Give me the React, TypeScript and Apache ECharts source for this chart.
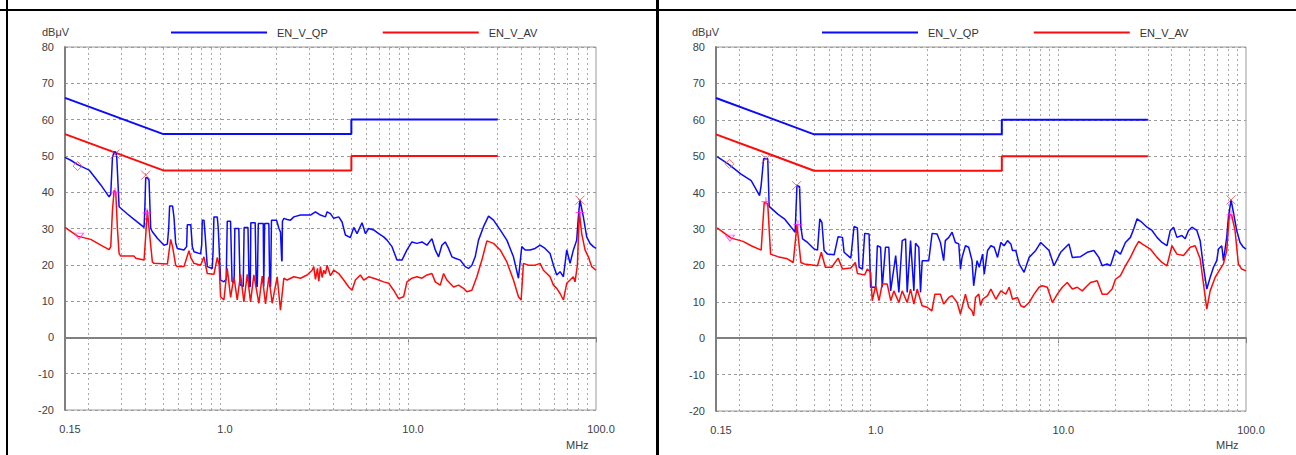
import React, { useEffect, useRef } from "react";
import * as echarts from "echarts";

const legendNames = ["EN_V_QP", "EN_V_AV"];
const xTickLabels = ["0.15", "1.0", "10.0", "100.0"];
const gridFreqs = [0.2, 0.3, 0.4, 0.5, 0.6, 0.7, 0.8, 0.9, 1, 2, 3, 4, 5, 6, 7, 8, 9, 10, 20, 30, 40, 50, 60, 70, 80, 90];

const qpLimit = [[0.15, 66], [0.5, 56], [5, 56], [5, 60], [30, 60]];
const avLimit = [[0.15, 56], [0.5, 46], [5, 46], [5, 50], [30, 50]];

const leftQP = [[0.15,49.6],[0.161,48.8],[0.175,47.6],[0.2015,46.1],[0.2325,42.0],[0.2574,38.7],[0.2627,39.5],[0.2682,49.6],[0.2737,51.1],[0.2793,51.1],[0.2827,49.6],[0.2909,36.0],[0.3221,34.0],[0.3494,32.5],[0.395,30.3],[0.399,36.0],[0.403,44.0],[0.4113,44.0],[0.4198,43.3],[0.4284,30.0],[0.4372,29.1],[0.4648,27.3],[0.5042,25.4],[0.5254,25.7],[0.534,30.0],[0.54,36.2],[0.56,36.2],[0.57,33.0],[0.5815,26.0],[0.5935,24.5],[0.6438,24.1],[0.665,25.0],[0.6707,31.0],[0.7,31.0],[0.713,25.0],[0.7276,23.6],[0.7896,23.0],[0.8,25.5],[0.8058,32.3],[0.8223,32.3],[0.835,28.0],[0.8564,19.5],[0.9105,19.0],[0.92,24.0],[0.9292,33.2],[0.9678,33.2],[0.98,30.0],[1.008,15.8],[1.05,15.3],[1.08,16.0],[1.094,32.0],[1.139,32.0],[1.16,15.5],[1.19,15.0],[1.2,30.0],[1.26,30.0],[1.28,14.5],[1.33,14.0],[1.345,30.3],[1.41,30.3],[1.43,14.0],[1.45,14.0],[1.46,31.6],[1.54,31.6],[1.56,14.0],[1.58,14.0],[1.6,31.4],[1.7,31.4],[1.71,14.0],[1.72,14.0],[1.73,31.4],[1.82,31.4],[1.84,14.0],[1.86,14.0],[1.88,32.3],[2.0,32.3],[2.06,30.0],[2.1,29.0],[2.13,21.3],[2.14,21.0],[2.15,32.0],[2.19,32.8],[2.278,32.5],[2.372,32.3],[2.472,33.2],[2.682,33.7],[3.03,33.7],[3.221,34.6],[3.424,33.7],[3.64,33.2],[3.715,34.6],[3.869,34.1],[4.03,32.8],[4.284,33.2],[4.462,31.8],[4.648,28.2],[4.941,27.5],[5.147,30.3],[5.361,28.6],[5.699,31.6],[5.936,28.6],[6.183,30.0],[6.572,29.6],[6.987,28.6],[7.428,27.7],[7.737,26.8],[8.224,25.0],[8.742,21.3],[9.292,21.3],[9.878,24.1],[10.5,26.3],[11.16,25.9],[11.87,26.3],[12.62,25.4],[13.41,27.2],[13.97,24.1],[14.55,22.2],[15.15,25.4],[15.78,26.3],[16.44,24.5],[17.13,22.2],[17.84,21.8],[18.96,21.3],[20.16,19.5],[21.0,19.0],[21.87,19.9],[22.78,22.2],[23.73,26.8],[25.22,30.5],[26.82,33.4],[28.51,32.3],[30.93,29.6],[33.56,26.8],[36.4,22.2],[38.69,16.3],[40.3,25.0],[41.98,24.1],[44.62,24.1],[47.44,24.5],[50.43,25.4],[53.61,24.5],[56.99,23.1],[59.36,19.9],[61.83,17.2],[64.41,18.1],[67.09,16.7],[69.88,24.1],[72.79,20.4],[75.81,24.1],[78.96,26.8],[80.58,33.2],[82.24,37.8],[85.66,33.2],[89.22,27.7],[92.92,25.9],[96.79,25.0],[100,24.5]];

const leftAV = [[0.15,30.3],[0.175,27.9],[0.2057,27.0],[0.2325,25.4],[0.2574,24.2],[0.2627,25.0],[0.2682,35.0],[0.2737,40.5],[0.2793,40.0],[0.285,30.0],[0.2909,23.1],[0.297,22.4],[0.3494,22.4],[0.3566,21.8],[0.395,21.3],[0.403,28.0],[0.4113,35.1],[0.4198,30.0],[0.4372,20.8],[0.4462,20.4],[0.5254,20.2],[0.547,27.0],[0.56,25.0],[0.5815,19.9],[0.5935,19.5],[0.6438,19.5],[0.6845,23.9],[0.7,22.0],[0.7276,20.4],[0.7896,19.9],[0.8223,22.2],[0.8564,17.6],[0.9292,17.4],[0.9678,22.0],[0.99,20.0],[1.008,11.2],[1.05,10.3],[1.094,19.0],[1.14,11.0],[1.187,16.7],[1.236,10.3],[1.287,17.4],[1.341,9.8],[1.397,17.4],[1.455,9.8],[1.515,17.2],[1.611,9.4],[1.678,16.9],[1.748,9.2],[1.82,16.7],[1.896,9.4],[2.016,16.7],[2.099,7.5],[2.187,16.3],[2.278,15.8],[2.472,16.7],[2.682,16.3],[2.909,17.2],[3.093,18.5],[3.156,19.5],[3.221,16.0],[3.3,19.0],[3.356,15.5],[3.424,19.5],[3.495,16.5],[3.566,18.5],[3.64,17.5],[3.715,19.9],[3.869,17.0],[4.03,18.5],[4.284,17.6],[4.554,15.8],[4.842,13.9],[5.043,13.0],[5.253,15.8],[5.584,17.2],[5.817,15.8],[6.183,16.7],[6.572,16.3],[6.987,15.8],[7.428,15.3],[7.896,14.9],[8.393,13.0],[8.922,10.7],[9.484,11.2],[9.878,15.3],[10.5,16.3],[11.16,16.7],[11.87,16.3],[12.62,17.2],[13.41,17.6],[13.97,15.3],[14.85,14.4],[15.47,17.6],[16.11,15.8],[17.48,13.9],[18.58,14.4],[19.75,13.5],[20.57,12.6],[21.87,13.0],[23.25,16.7],[24.72,21.3],[26.28,26.6],[28.51,25.9],[30.93,24.1],[33.56,20.8],[36.4,15.8],[38.69,11.2],[39.97,10.3],[41.13,20.4],[43.72,19.9],[47.44,19.9],[50.43,20.4],[52.52,18.5],[56.99,16.7],[59.36,14.4],[61.83,13.5],[64.41,12.1],[67.09,10.3],[69.88,14.9],[72.79,15.8],[75.81,16.7],[77.37,15.3],[79.61,19.9],[81.57,34.6],[83.93,28.6],[87.42,24.1],[91.06,22.2],[94.84,19.5],[100,18.5]];

const rightQP = [[0.152,49.9],[0.174,47.9],[0.204,45.1],[0.231,43.3],[0.256,39.2],[0.261,42.0],[0.269,49.3],[0.283,49.3],[0.288,36.2],[0.32,34.1],[0.347,32.8],[0.384,30.0],[0.396,29.1],[0.405,41.9],[0.418,41.7],[0.425,30.5],[0.434,27.3],[0.461,26.3],[0.5,24.5],[0.521,24.2],[0.536,32.8],[0.55,31.8],[0.565,24.1],[0.589,23.1],[0.639,22.9],[0.671,27.9],[0.708,27.7],[0.722,23.6],[0.784,22.0],[0.816,30.7],[0.85,30.3],[0.868,19.5],[0.904,19.0],[0.93,28.8],[0.981,28.6],[1.0,14.0],[1.064,14.0],[1.086,25.4],[1.13,25.0],[1.153,14.0],[1.2,25.0],[1.25,25.0],[1.278,13.0],[1.36,22.7],[1.414,12.6],[1.473,26.8],[1.535,27.3],[1.566,12.6],[1.632,26.8],[1.7,13.0],[1.735,26.1],[1.806,25.0],[1.844,12.6],[1.882,21.3],[2.04,21.3],[2.126,28.8],[2.26,28.6],[2.354,26.3],[2.45,21.3],[2.5,26.8],[2.61,27.7],[2.716,29.1],[2.83,26.3],[2.95,25.9],[3.01,19.0],[3.07,22.2],[3.2,25.4],[3.33,25.0],[3.47,21.3],[3.54,14.4],[3.69,21.3],[3.792,19.5],[3.949,23.1],[4.03,17.6],[4.198,24.1],[4.372,25.4],[4.554,25.0],[4.744,22.2],[4.941,26.3],[5.147,25.4],[5.361,26.8],[5.584,25.9],[5.699,24.1],[5.936,24.1],[6.183,20.4],[6.572,18.1],[6.987,22.2],[7.581,24.1],[8.058,26.3],[8.566,25.0],[8.922,24.1],[9.484,19.9],[10.29,23.6],[10.94,25.0],[11.39,25.9],[11.87,22.2],[13.14,22.4],[14.26,23.6],[15.47,24.1],[16.44,22.2],[17.13,19.9],[18.2,20.4],[18.96,19.9],[20.16,24.2],[21.43,23.1],[22.78,26.3],[24.22,27.7],[25.22,30.0],[26.28,32.8],[27.93,31.8],[29.7,30.5],[31.56,29.6],[33.56,27.7],[35.66,26.3],[37.92,25.4],[39.49,29.6],[41.13,30.5],[42.84,27.7],[45.54,28.2],[47.44,27.3],[49.41,29.6],[51.46,30.5],[54.71,29.6],[56.99,26.8],[59.36,19.5],[61.83,13.5],[64.41,16.7],[67.09,19.5],[69.88,21.3],[71.32,24.5],[74.28,25.4],[75.81,21.3],[78.96,27.7],[80.58,33.2],[83.25,38.0],[85.66,34.6],[89.22,29.6],[92.92,26.3],[96.79,25.0],[100,24.5]];

const rightAV = [[0.152,30.3],[0.181,27.5],[0.209,26.6],[0.231,25.4],[0.261,24.2],[0.271,37.3],[0.283,36.9],[0.293,23.1],[0.32,22.4],[0.36,21.8],[0.387,20.8],[0.405,31.2],[0.425,20.8],[0.443,20.4],[0.521,19.9],[0.546,23.6],[0.574,19.5],[0.62,19.5],[0.671,22.0],[0.708,19.0],[0.784,19.3],[0.829,20.8],[0.85,17.8],[0.93,17.4],[0.96,19.0],[1.0,18.1],[1.02,10.3],[1.064,14.4],[1.108,10.3],[1.153,14.9],[1.225,14.9],[1.28,10.3],[1.33,13.0],[1.414,9.8],[1.473,13.0],[1.566,9.8],[1.632,13.5],[1.7,9.4],[1.77,13.5],[1.88,8.9],[2.0,8.5],[2.12,7.5],[2.2,12.1],[2.354,12.1],[2.45,9.4],[2.61,11.2],[2.716,11.7],[2.89,9.8],[3.01,6.6],[3.2,12.1],[3.33,8.5],[3.47,7.5],[3.54,6.1],[3.62,11.2],[3.77,12.1],[3.85,9.0],[3.949,10.7],[4.198,11.7],[4.372,13.5],[4.648,10.7],[4.941,13.0],[5.253,12.1],[5.472,14.0],[5.699,10.7],[6.058,11.2],[6.31,8.9],[6.572,8.5],[6.987,9.8],[7.428,12.1],[7.896,14.0],[8.224,14.4],[8.742,14.0],[9.292,9.8],[9.878,12.1],[10.5,14.0],[11.16,15.3],[11.87,13.5],[12.62,14.0],[13.41,13.0],[14.26,14.4],[14.85,15.3],[16.11,15.8],[17.13,12.1],[18.2,12.1],[19.35,13.5],[20.16,16.2],[21.43,17.2],[22.78,19.9],[24.22,22.2],[25.74,25.0],[26.82,26.6],[27.93,25.9],[30.93,24.5],[33.56,22.2],[35.66,20.8],[37.92,19.9],[40.3,25.4],[42.84,23.1],[46.48,22.7],[50.43,25.0],[53.61,25.4],[56.99,21.8],[59.36,14.9],[61.83,8.0],[64.41,13.0],[68.47,16.7],[72.79,19.0],[75.81,20.4],[78.96,24.1],[81.57,34.1],[83.93,33.7],[87.42,29.6],[91.06,20.4],[94.84,19.0],[100,18.5]];

const leftDiamond = [[0.175, 47.2]];
const leftTriangle = [[0.178, 27.9]];
const leftCross = [[0.277, 50.5], [0.403, 44.7], [82.2, 37.8]];
const leftPlus = [[0.277, 40.0], [0.41, 34.3], [82.2, 34.4]];
const rightDiamond = [[0.177, 47.9]];
const rightTriangle = [[0.178, 27.5]];
const rightCross = [[0.277, 49.3], [0.403, 41.9], [83.2, 38.0]];
const rightPlus = [[0.277, 37.5], [0.41, 31.2], [83.2, 33.9]];

const FONT = '"Liberation Sans", Arial, sans-serif';
const BLUE = "#0a0aff";
const RED = "#ff0a0a";
const CROSS = "path://M0,0L10,10M10,0L0,10";
const PLUS = "path://M5,0L5,10M0,5L10,5";

function xLabel(v: number) {
  const hit = xTickLabels.find((t) => Math.abs(Math.log10(parseFloat(t)) - Math.log10(v)) < 0.01);
  return hit ?? "";
}

function buildOption() {
  const grids = [
    { left: 65, top: 47, width: 531, height: 363 },
    { left: 716, top: 47, width: 530, height: 364 },
  ];
  const xAxes = grids.map((_, i) => ({
    type: "log",
    logBase: 10,
    gridIndex: i,
    min: 0.15,
    max: 100,
    axisLine: { show: true, lineStyle: { color: "#808080", width: 2 } },
    axisTick: { show: true, length: 5, lineStyle: { color: "#808080", width: 1 } },
    axisLabel: { formatter: xLabel, color: "#404040", fontSize: 11, fontFamily: FONT, margin: 13, padding: [0, 0, 0, 10] },
    splitLine: { show: false },
    minorTick: { show: false },
  }));
  const yAxes = grids.map((_, i) => ({
    type: "value",
    gridIndex: i,
    min: -20,
    max: 80,
    interval: 10,
    axisLine: { show: true, lineStyle: { color: "#808080", width: 2 } },
    axisTick: { show: false },
    axisLabel: { color: "#404040", fontSize: 11, fontFamily: FONT, margin: 11 },
    splitLine: { show: true, lineStyle: { color: "#9a9a9a", width: 1, type: [3, 3] } },
  }));

  const panels = [
    { qp: leftQP, av: leftAV, dia: leftDiamond, tri: leftTriangle, cross: leftCross, plus: leftPlus },
    { qp: rightQP, av: rightAV, dia: rightDiamond, tri: rightTriangle, cross: rightCross, plus: rightPlus },
  ];
  const series: any[] = [];
  panels.forEach((p, i) => {
    series.push({
      name: legendNames[0], type: "line", xAxisIndex: i, yAxisIndex: i, data: qpLimit,
      showSymbol: false, color: BLUE, lineStyle: { width: 2, color: BLUE }, z: 3,
      markLine: {
        silent: true, z: 1, symbol: ["none", "none"], label: { show: false },
        lineStyle: { color: "#a8a8a8", width: 1, type: [2, 3] },
        emphasis: { disabled: true },
        data: gridFreqs.map((f) => ({ xAxis: f })),
      },
    });
    series.push({
      name: legendNames[1], type: "line", xAxisIndex: i, yAxisIndex: i, data: avLimit,
      showSymbol: false, color: RED, lineStyle: { width: 2, color: RED }, z: 3,
    });
    series.push({
      name: legendNames[0], type: "line", xAxisIndex: i, yAxisIndex: i, data: p.qp,
      showSymbol: false, color: BLUE, lineStyle: { width: 1.5, color: BLUE }, z: 4,
    });
    series.push({
      name: legendNames[1], type: "line", xAxisIndex: i, yAxisIndex: i, data: p.av,
      showSymbol: false, color: RED, lineStyle: { width: 1.5, color: RED }, z: 5,
    });
    series.push({
      name: "QP peak", type: "scatter", xAxisIndex: i, yAxisIndex: i, data: p.cross,
      symbol: CROSS, symbolSize: 9, itemStyle: { color: "none", borderColor: "#e8405a", borderWidth: 1 }, z: 6,
    });
    series.push({
      name: "AV peak", type: "scatter", xAxisIndex: i, yAxisIndex: i, data: p.plus,
      symbol: PLUS, symbolSize: 9, itemStyle: { color: "none", borderColor: "#ff20ff", borderWidth: 1 }, z: 6,
    });
    series.push({
      name: "QP mark", type: "scatter", xAxisIndex: i, yAxisIndex: i, data: p.dia,
      symbol: "diamond", symbolSize: [9, 9], itemStyle: { color: "none", borderColor: "#ff5050", borderWidth: 1 }, z: 6,
    });
    series.push({
      name: "AV mark", type: "scatter", xAxisIndex: i, yAxisIndex: i, data: p.tri,
      symbol: "triangle", symbolRotate: 180, symbolSize: [9, 6], itemStyle: { color: "none", borderColor: "#ff30ff", borderWidth: 1 }, z: 6,
    });
  });

  const legends = [171, 822].map((left) => ({
    data: legendNames,
    left,
    top: 27,
    padding: 0,
    icon: "rect",
    itemWidth: 96,
    itemHeight: 2,
    itemGap: 55,
    selectedMode: false,
    textStyle: { color: "#333", fontSize: 11, fontFamily: FONT, padding: [0, 0, 0, 5] },
  }));

  const textStyle = (text: string, x: number, y: number) => ({
    type: "text", x, y, silent: true,
    style: { text, fill: "#404040", font: `11px ${FONT}`, align: "left", verticalAlign: "middle" },
  });

  return {
    animation: false,
    backgroundColor: "#ffffff",
    grid: grids.map((g) => ({ ...g, show: true, borderColor: "#9a9a9a", borderWidth: 1, backgroundColor: "transparent" })),
    xAxis: xAxes,
    yAxis: yAxes,
    legend: legends,
    series,
    graphic: [
      { type: "rect", silent: true, shape: { x: 0, y: 9, width: 1296, height: 2 }, style: { fill: "#000" } },
      { type: "rect", silent: true, shape: { x: 6, y: 0, width: 2, height: 455 }, style: { fill: "#000" } },
      { type: "rect", silent: true, shape: { x: 656, y: 0, width: 3, height: 455 }, style: { fill: "#000" } },
      textStyle("dBμV", 42, 32),
      textStyle("dBμV", 692, 32),
      textStyle("MHz", 566, 445),
      textStyle("MHz", 1216, 445),
    ],
  };
}

export default function App() {
  const ref = useRef<HTMLDivElement>(null);
  useEffect(() => {
    if (!ref.current) return;
    const chart = echarts.init(ref.current, undefined, { renderer: "svg" });
    chart.setOption(buildOption() as any);
    return () => chart.dispose();
  }, []);
  return <div ref={ref} style={{ position: "fixed", left: 0, top: 0, width: 1296, height: 455, background: "#fff" }} />;
}
